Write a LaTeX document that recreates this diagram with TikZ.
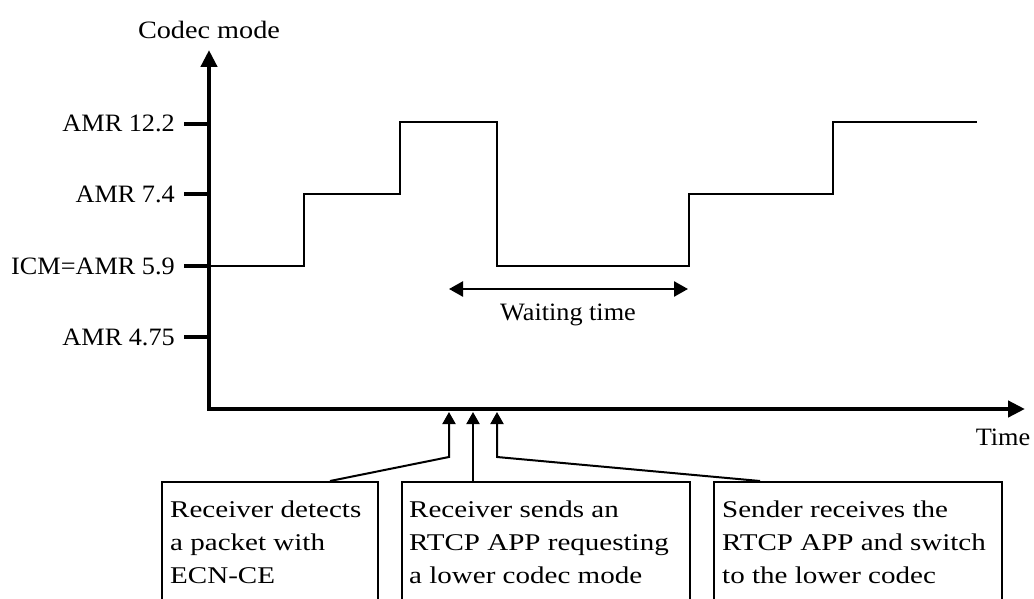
\documentclass[tikz,border=0pt]{standalone}
\usepackage{fontspec}
\setmainfont{Liberation Serif}
\usepackage{graphicx}
\usetikzlibrary{arrows.meta}
\newcommand{\bxt}[1]{\scalebox{1.21}[1]{\begin{tabular}[t]{@{}l@{}}#1\end{tabular}}}
\newcommand{\lbt}[2][1.05]{\scalebox{#1}[1]{#2}}
\begin{document}
\begin{tikzpicture}[x=1pt,y=-1pt,
  axis/.style={line width=4.5pt, line join=miter, {Triangle[length=17pt,width=16pt]}-{Triangle[length=17pt,width=16pt]}},
  tickmark/.style={line width=4pt},
  curve/.style={line width=2pt, line join=miter},
  boxnode/.style={draw, line width=1.8pt, anchor=north west, minimum height=160pt, inner sep=0pt},
  boxtext/.style={anchor=base west, inner sep=0pt, font=\fontsize{24}{33}\selectfont},
  conn/.style={line width=2pt, line join=miter, -{Triangle[length=12pt,width=13pt]}},
  waitarrow/.style={line width=2.5pt, {Triangle[length=14pt,width=15pt]}-{Triangle[length=14pt,width=15pt]}},
  lab/.style={inner sep=0pt, font=\fontsize{25}{30}\selectfont},
]
\useasboundingbox (0,0) rectangle (1034,599);
\clip (0,0) rectangle (1034,599);

% axes
\coordinate (ytop) at (209,50);
\coordinate (O) at (209,409);
\coordinate (xend) at (1025,409);
\draw[axis] (ytop) -- (O) -- (xend);
\node[lab, anchor=base] (ylab) at (209,39) {\lbt[1.13]{Codec mode}};
\node[lab, anchor=base] (xlab) at (1003,445) {\lbt{Time}};

% ticks
\foreach \yy/\txt/\nm in {124/AMR 12.2/a, 194/AMR 7.4/b, 266/ICM=AMR 5.9/c, 337/AMR 4.75/d}{
  \coordinate (tk\nm) at (184,\yy);
  \draw[tickmark] (tk\nm) -- (O |- tk\nm);
  \node[lab, anchor=base east] (tl\nm) at (175,\yy+8) {\lbt{\txt}};
}

% codec mode curve
\draw[curve] (209,266) -- (304,266) -- (304,194) -- (400,194) -- (400,122)
  -- (497,122) -- (497,266) -- (689,266) -- (689,194) -- (833,194)
  -- (833,122) -- (977,122);

% waiting time
\coordinate (w1) at (449,289);
\coordinate (w2) at (688,289);
\draw[waitarrow] (w1) -- (w2);
\node[lab, anchor=base] (wt) at (568,320) {\lbt{Waiting time}};

% boxes
\node[boxnode, minimum width=216pt] (b1) at (161,481) {};
\node[boxnode, minimum width=288pt] (b2) at (401,481) {};
\node[boxnode, minimum width=288pt] (b3) at (713,481) {};
\node[boxtext] (t1) at (170,517) {\bxt{Receiver detects\\a packet with\\ECN-CE}};
\node[boxtext] (t2) at (409,517) {\bxt{Receiver sends an\\RTCP APP requesting\\a lower codec mode}};
\node[boxtext] (t3) at (722,517) {\bxt{Sender receives the\\RTCP APP and switch\\to the lower codec}};

% connectors
\coordinate (e1) at (449,412);
\coordinate (e2) at (473,412);
\coordinate (e3) at (497,412);
\draw[conn] ([xshift=169pt]b1.north west) -- (449,457) -- (e1);
\draw[conn] ([xshift=72pt]b2.north west) -- (e2);
\draw[conn] ([xshift=47pt]b3.north west) -- (497,457) -- (e3);
\end{tikzpicture}
\end{document}
